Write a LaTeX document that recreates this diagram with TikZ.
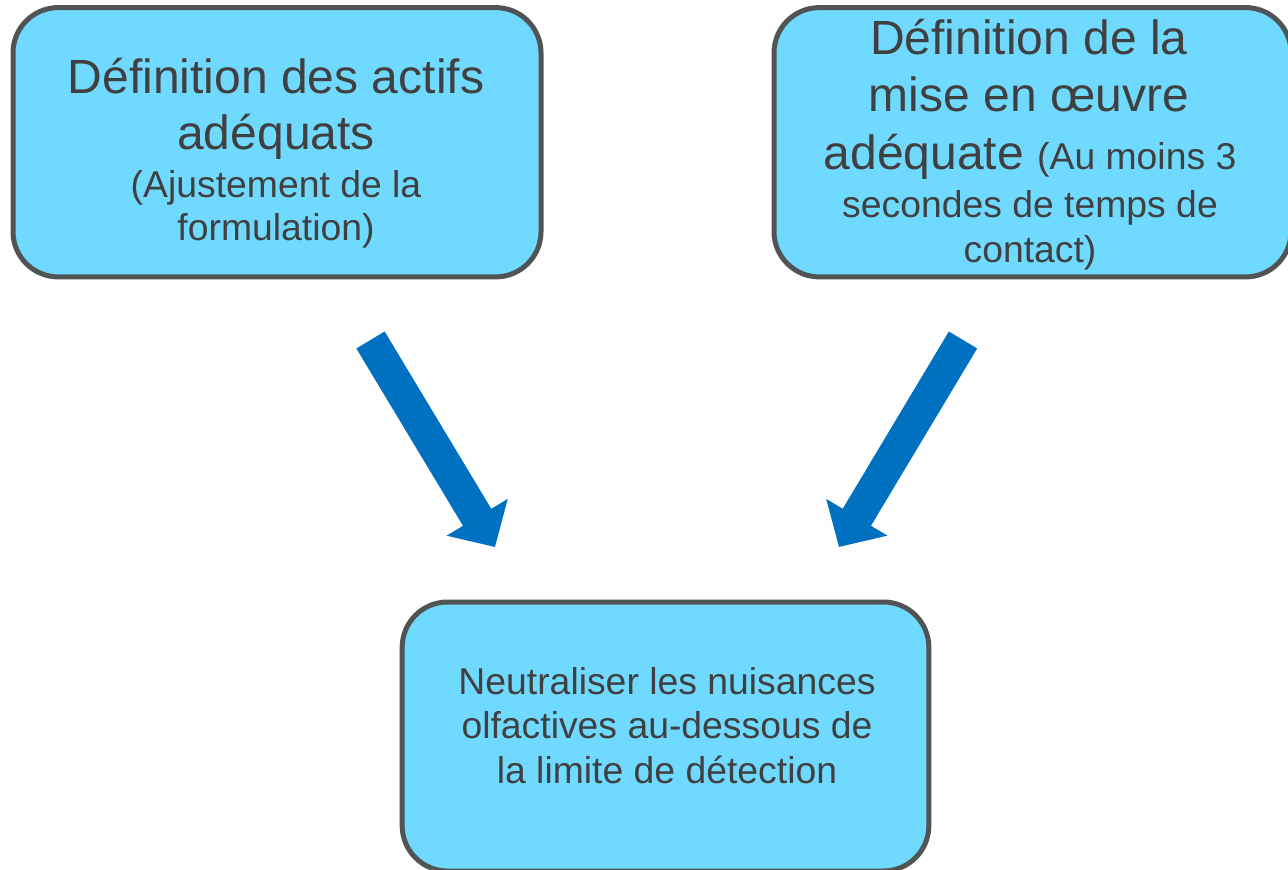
\documentclass[tikz,border=0pt]{standalone}
\usepackage{fontspec}
\setmainfont{Liberation Sans}
\usetikzlibrary{arrows.meta}
\definecolor{boxfill}{RGB}{112,217,255}
\definecolor{boxline}{RGB}{80,84,84}
\definecolor{txtcol}{RGB}{64,64,64}
\definecolor{arrowblue}{RGB}{0,112,192}
\newcommand{\bigtxt}{\fontsize{36}{42}\selectfont}
\newcommand{\smalltxt}{\fontsize{28}{33}\selectfont}
\tikzset{
  box/.style={draw=boxline, line width=3.75pt, fill=boxfill, rounded corners=34pt, inner sep=0pt},
  line/.style={anchor=base, text=txtcol, inner sep=0pt},
  bigline/.style={line, font=\bigtxt},
  smallline/.style={line, font=\smalltxt},
  blockarrow/.style={draw=arrowblue, line width=24.75pt, -{Triangle[width=52pt, length=26pt]}}
}
\begin{document}
\begin{tikzpicture}[x=0.75pt, y=-0.75pt]
\useasboundingbox (0,0) rectangle (1288,870);
% boxes
\node[box, minimum width=396pt, minimum height=202pt] (b1) at (277,142.25) {};
\node[box, minimum width=387.75pt, minimum height=202pt] (b2) at (1032.5,142.25) {};
\node[box, minimum width=395pt, minimum height=201.75pt] (b3) at (665.5,736.5) {};
% box 1 text
\node[bigline] (t1a) at (276,94) {Définition des actifs};
\node[bigline] (t1b) at (276,150) {adéquats};
\node[smallline] (t1c) at (276,197) {(Ajustement de la};
\node[smallline] (t1d) at (276,240) {formulation)};
% box 2 text
\node[bigline] (t2a) at (1029,55) {Définition de la};
\node[bigline] (t2b) at (1029,112) {mise en œuvre};
\node[line] (t2c) at (1030,170) {{\bigtxt adéquate }{\smalltxt (Au moins 3}};
\node[smallline] (t2d) at (1030,217) {secondes de temps de};
\node[smallline] (t2e) at (1030,262) {contact)};
% box 3 text
\node[smallline] (t3a) at (667,694) {Neutraliser les nuisances};
\node[smallline] (t3b) at (667,738) {olfactives au-dessous de};
\node[smallline] (t3c) at (667,783) {la limite de détection};
% arrows
\coordinate (a1s) at (370.5,340);
\coordinate (a1e) at (495,547);
\coordinate (a2s) at (963,340);
\coordinate (a2e) at (839,547);
\draw[blockarrow] (a1s) -- (a1e);
\draw[blockarrow] (a2s) -- (a2e);
\end{tikzpicture}
\end{document}
